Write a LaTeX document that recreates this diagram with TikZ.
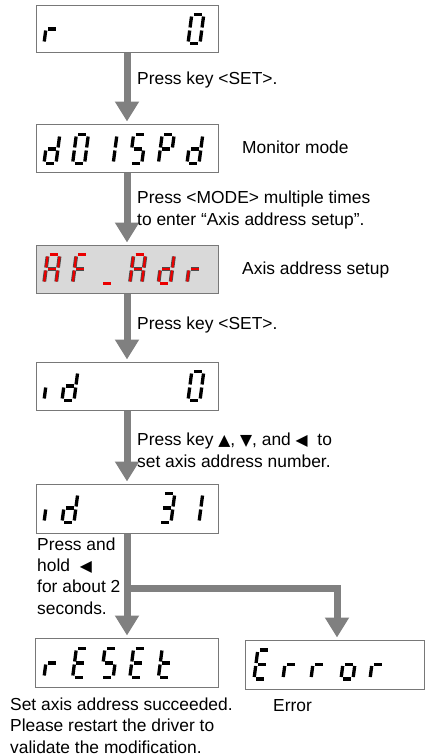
\documentclass[tikz,border=0pt]{standalone}
\usepackage{fontspec}
\setmainfont{Liberation Sans}
\newfontfamily\symf{DejaVu Sans}[Scale=0.9]
\usetikzlibrary{arrows.meta,calc}
\definecolor{arrgray}{RGB}{128,128,128}
\definecolor{boxgray}{RGB}{120,120,120}
\definecolor{lcdfill}{RGB}{217,217,217}
\definecolor{segred}{RGB}{235,0,0}
\newcommand\lbl{\fontsize{17.4pt}{21.3pt}\selectfont}
% seven-segment glyph: #1 = x,y of lower-left, #2 = segments, #3 = style
\newcommand\sevseg[3]{%
  \begin{scope}[shift={(#1)}, yscale=-1, xslant=-0.13]
  \foreach \s in {#2}{%
    \if a\s \draw[#3] (2,29)--(10,29);\fi
    \if b\s \draw[#3] (12,27)--(12,16);\fi
    \if c\s \draw[#3] (12,13)--(12,2);\fi
    \if d\s \draw[#3] (2,0)--(10,0);\fi
    \if e\s \draw[#3] (0,2)--(0,13);\fi
    \if f\s \draw[#3] (0,16)--(0,27);\fi
    \if g\s \draw[#3] (2,14.5)--(10,14.5);\fi
  }%
  \end{scope}}
\tikzset{
  lcd/.style={draw=boxgray, line width=1pt, inner sep=0pt, minimum width=182pt},
  segk/.style={line width=3.3pt, draw=black, line cap=butt},
  segr/.style={line width=0.8pt, draw=black!70, double=segred, double distance=2.2pt, line cap=butt},
  arr/.style={draw=arrgray, line width=7pt, -{Triangle[width=23pt,length=20pt]}, shorten >=2pt},
  lab/.style={anchor=base west, inner sep=0pt, align=left, font=\lbl},
}
\begin{document}
\begin{tikzpicture}[x=1pt, y=-1pt]
\useasboundingbox (0,0) rectangle (426,756);
% displays
\node[lcd, minimum height=47pt] (b1) at (127,28.5) {};
\node[lcd, minimum height=48pt] (b2) at (127,148) {};
\node[lcd, minimum height=48pt, fill=lcdfill] (b3) at (127,269) {};
\node[lcd, minimum height=48pt] (b4) at (127,386) {};
\node[lcd, minimum height=49pt] (b5) at (127,508.5) {};
\node[lcd, minimum height=49pt, minimum width=183pt] (b6) at (126.5,662.5) {};
\node[lcd, minimum height=49pt, minimum width=179pt] (b7) at (334.5,664.5) {};
% b1: r    0
\sevseg{44,43.5}{e,g}{segk}
\sevseg{188,43.5}{a,b,c,d,e,f}{segk}
% b2: d01SPd
\sevseg{44,163.5}{b,c,d,e,g}{segk}
\sevseg{72.6,163.5}{a,b,c,d,e,f}{segk}
\sevseg{101.2,163.5}{b,c}{segk}
\sevseg{129.8,163.5}{a,f,g,c,d}{segk}
\sevseg{158.4,163.5}{a,b,f,g,e}{segk}
\sevseg{187,163.5}{b,c,d,e,g}{segk}
% b3: AF_Adr
\sevseg{44,283.5}{a,b,c,e,f,g}{segr}
\sevseg{72.6,283.5}{a,e,f,g}{segr}
\sevseg{101.2,283.5}{d}{segr}
\sevseg{129.8,283.5}{a,b,c,e,f,g}{segr}
\sevseg{158.4,283.5}{b,c,d,e,g}{segr}
\sevseg{187,283.5}{e,g}{segr}
% b4: id    0
\sevseg{44,400.5}{e}{segk}
\sevseg{62,400.5}{b,c,d,e,g}{segk}
\sevseg{188,400.5}{a,b,c,d,e,f}{segk}
% b5: id   31
\sevseg{44,522.5}{e}{segk}
\sevseg{62,522.5}{b,c,d,e,g}{segk}
\sevseg{159,522.5}{a,b,c,d,g}{segk}
\sevseg{187,522.5}{b,c}{segk}
% b6: rESEt
\sevseg{44,677.5}{e,g}{segk}
\sevseg{72.6,677.5}{a,d,e,f,g}{segk}
\sevseg{101.2,677.5}{a,f,g,c,d}{segk}
\sevseg{129.8,677.5}{a,d,e,f,g}{segk}
\sevseg{158.4,677.5}{d,e,f,g}{segk}
% b7: Error
\sevseg{254,679}{a,d,e,f,g}{segk}
\sevseg{283,679}{e,g}{segk}
\sevseg{311,679}{e,g}{segk}
\sevseg{341,679}{c,d,e,g}{segk}
\sevseg{370,679}{e,g}{segk}
% connectors
\draw[arr] (b1.south) -- (b2.north);
\draw[arr] (b2.south) -- (b3.north);
\draw[arr] (b3.south) -- (b4.north);
\draw[arr] (b4.south) -- (b5.north);
\draw[arr] (b5.south) -- (b5.south |- b6.north);
\coordinate (br) at (127,588);
\draw[arr] (br) -| ([xshift=2.5pt]b7.north);
% labels (multi-line nodes: base = baseline of last line)
\node[lab] (t1) at (137,84) {Press key <SET>.};
\node[lab] (t2) at (242,153) {Monitor mode};
\node[lab] (t3) at (137,225) {Press <MODE> multiple times\\to enter “Axis address setup”.};
\node[lab] (t4) at (242,274) {Axis address setup};
\node[lab] (t5) at (137,329) {Press key <SET>.};
\node[lab] (t6) at (137,467) {Press key {\symf ▲}, {\symf ▼}, and {\symf ◀}\ \ to\\set axis address number.};
\node[lab] (t7) at (37,614) {Press and\\hold\ \ {\symf ◀}\\for about 2\\seconds.};
\node[lab] (t8) at (10,753) {Set axis address succeeded.\\Please restart the driver to\\validate the modification.};
\node[lab] (t9) at (273,711) {Error};
\end{tikzpicture}
\end{document}
